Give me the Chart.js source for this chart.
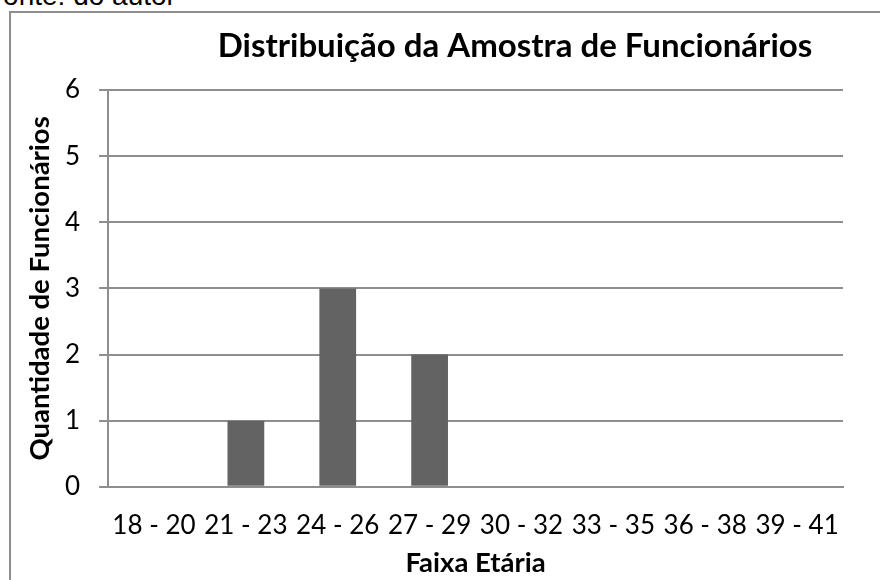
<!DOCTYPE html>
<html>
<head>
<meta charset="utf-8">
<script src="https://cdn.jsdelivr.net/npm/chart.js@4.4.0/dist/chart.umd.min.js"></script>
<style>
  html, body { margin: 0; padding: 0; background: #fff; overflow: hidden; }
  body { width: 880px; height: 580px; position: relative; }
  #wrap { position: absolute; left: 0; top: 0; width: 1030px; height: 580px; }
  #frame { position: absolute; left: 9px; top: 11px; width: 1200px; height: 800px;
           border-left: 2px solid #8e8e8e; border-top: 2px solid #8e8e8e; box-sizing: border-box; }
  #source { position: absolute; left: -14px; top: -18px; font-family: "Liberation Sans", Arial, sans-serif; font-size: 28px;
            line-height: 28px; color: #000; white-space: nowrap; }
</style>
</head>
<body>
<div id="source">Fonte: do autor</div>
<div id="frame"></div>
<div id="wrap"><canvas id="c" width="1030" height="580"></canvas></div>
<script>
const chartTitle = 'Distribuição da Amostra de Funcionários';
const xTitle = 'Faixa Etária';
const yTitle = 'Quantidade de Funcionários';
const categories = ['18 - 20', '21 - 23', '24 - 26', '27 - 29', '30 - 32', '33 - 35', '36 - 38', '39 - 41'];
const counts = [0, 1, 3, 2, 0, 0, 0, 0];
const yMin = 0, yMax = 6, yStep = 1;

const gridColor = '#8e8e8e';
new Chart(document.getElementById('c'), {
  type: 'bar',
  data: {
    labels: categories,
    datasets: [{
      label: 'Funcionários',
      data: counts,
      backgroundColor: '#636363',
      borderWidth: 0,
      barPercentage: 0.4,
      categoryPercentage: 1.0
    }]
  },
  options: {
    responsive: false,
    animation: false,
    devicePixelRatio: 1,
    layout: { padding: { left: 10, right: 10, top: 12, bottom: 0 } },
    plugins: {
      legend: { display: false },
      tooltip: { enabled: false },
      title: {
        display: true,
        text: chartTitle,
        color: '#000',
        font: { family: 'Lato', size: 33, weight: 'bold', lineHeight: 1.2 },
        padding: { top: 15, bottom: 23.4 }
      }
    },
    scales: {
      x: {
        grid: { display: false, drawTicks: true, tickLength: 23 },
        border: { display: true, color: gridColor, width: 2 },
        ticks: { color: '#000', font: { family: 'Lato', size: 26 }, padding: 0, maxRotation: 0, autoSkip: false },
        title: { display: true, text: xTitle, color: '#000', font: { family: 'Lato', size: 27.5, weight: 'bold', lineHeight: 1.2 }, padding: { top: 6, bottom: 0 } }
      },
      y: {
        min: yMin, max: yMax,
        grid: { color: gridColor, lineWidth: 2, drawTicks: true, tickLength: 9, tickColor: gridColor },
        border: { display: true, color: gridColor, width: 2 },
        ticks: { stepSize: yStep, color: '#000', font: { family: 'Lato', size: 26 }, padding: 19 },
        title: { display: true, text: yTitle, color: '#000', font: { family: 'Lato', size: 27.5, weight: 'bold', lineHeight: 1.2 }, padding: { top: 14, bottom: -11 } }
      },
      ySpace: {
        position: 'right',
        display: true,
        grid: { display: false, drawTicks: false },
        border: { display: false },
        ticks: { display: false },
        afterFit: function (s) { s.width = 177; }
      }
    }
  }
});
</script>
</body>
</html>
